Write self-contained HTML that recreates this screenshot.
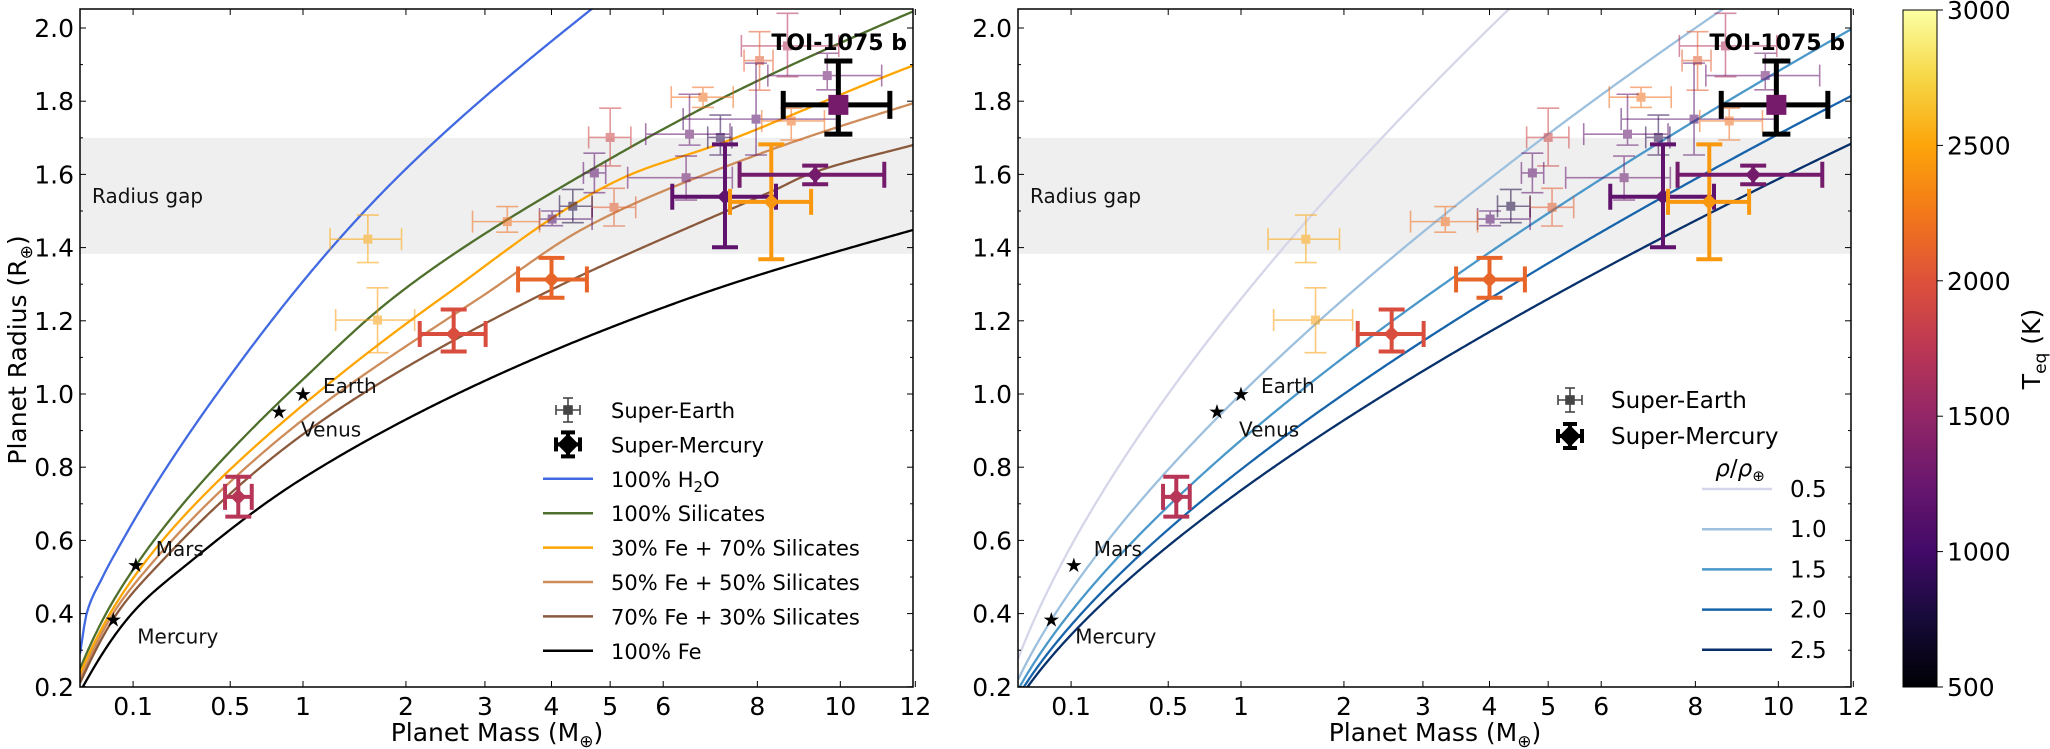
<!DOCTYPE html>
<html><head><meta charset="utf-8">
<style>
html,body{margin:0;padding:0;background:#fff;}
svg{display:block;font-family:"DejaVu Sans","Liberation Sans",sans-serif;}
</style></head>
<body>
<svg id="chart" width="2050" height="749" viewBox="0 0 2050 749" xmlns="http://www.w3.org/2000/svg">
<defs>
<linearGradient id="infernoGrad" x1="0" y1="1" x2="0" y2="0">
<stop offset="0" stop-color="#000004"/><stop offset="0.1" stop-color="#160b39"/><stop offset="0.2" stop-color="#420a68"/><stop offset="0.3" stop-color="#6a176e"/><stop offset="0.4" stop-color="#932667"/><stop offset="0.5" stop-color="#bc3754"/><stop offset="0.6" stop-color="#dd513a"/><stop offset="0.7" stop-color="#f37819"/><stop offset="0.8" stop-color="#fca50a"/><stop offset="0.9" stop-color="#f6d746"/><stop offset="1" stop-color="#fcffa4"/>
</linearGradient>
<clipPath id="clipL"><rect x="80" y="9" width="833" height="678"/></clipPath>
<clipPath id="clipR"><rect x="1018" y="9" width="833" height="678"/></clipPath>
</defs>
</svg>
<script>
// ---------- data ----------
const xTicks=[0.1,0.5,1,2,3,4,5,6,8,10,12];
const xTickLabels=["0.1","0.5","1","2","3","4","5","6","8","10","12"];
const yTicks=[0.2,0.4,0.6,0.8,1.0,1.2,1.4,1.6,1.8,2.0];
const yTickLabels=["0.2","0.4","0.6","0.8","1.0","1.2","1.4","1.6","1.8","2.0"];
const cbTicks=[500,1000,1500,2000,2500,3000];
const radiusGap=[1.383,1.70];
// composition curves (mass, radius samples)
const curveH2O_M=[0.0105,0.0167,0.0375,0.075,0.204,0.40,1.716,4.65];
const curveH2O_R=[0.29,0.40,0.50,0.60,0.80,0.98,1.544,2.049];
const curveSil_M=[0.0105,0.043,0.118,1.0,1.86,4.71,7.28,11.93];
const curveSil_R=[0.249,0.40,0.547,1.04,1.263,1.617,1.812,2.045];
const curve30_M=[0.0105,0.050,0.138,1.0,2.43,5.21,7.28,11.93];
const curve30_R=[0.235,0.40,0.547,0.97,1.263,1.589,1.689,1.897];
const curve50_M=[0.0105,0.0555,0.163,1.0,2.93,4.59,8.05,11.93];
const curve50_R=[0.22,0.40,0.547,0.93,1.263,1.457,1.656,1.794];
const curve70_M=[0.0105,0.063,0.191,1.0,3.74,8.32,9.27,11.93];
const curve70_R=[0.21,0.40,0.547,0.89,1.263,1.553,1.603,1.680];
const curveFe_M=[0.013,0.097,0.309,1.0,6.55,11.93];
const curveFe_R=[0.2,0.40,0.547,0.77,1.263,1.448];
const densities=[0.5,1.0,1.5,2.0,2.5];
const densityColors=["#d6d6ea","#9dc0de","#4a98c9","#1764ab","#08306b"];
// solar system
const ssNames=["Mercury","Venus","Earth","Mars"];
const ssMass=[0.056,0.816,1.0,0.107];
const ssRadius=[0.384,0.952,1.0,0.533];
// super-Earths
const seMass=[8.70,8.05,9.67,6.81,7.97,8.79,6.53,7.18,5.00,4.72,6.46,5.07,4.35,4.01,3.32,1.59,1.69];
const seMlo=[7.64,7.70,8.24,6.16,6.40,8.10,5.66,6.91,4.62,4.53,5.32,4.68,4.13,3.81,2.83,1.23,1.28];
const seMhi=[9.96,8.36,11.08,7.46,9.90,9.60,7.39,7.43,5.38,4.92,7.44,5.47,4.68,4.68,3.81,1.95,2.10];
const seRad=[1.951,1.911,1.870,1.811,1.751,1.746,1.710,1.701,1.701,1.604,1.591,1.510,1.513,1.478,1.471,1.423,1.202];
const seRlo=[1.867,1.83,1.831,1.783,1.653,1.694,1.680,1.653,1.623,1.550,1.53,1.459,1.468,1.46,1.442,1.359,1.113];
const seRhi=[2.04,1.99,1.931,1.838,1.904,1.781,1.819,1.762,1.781,1.658,1.65,1.562,1.559,1.50,1.512,1.489,1.290];
const seTeq=[1680,2070,1250,2200,1120,2200,1200,875,1880,1170,1250,2080,800,1120,2200,2500,2450];
// super-Mercuries
const smMass=[0.547,2.58,4.00,7.28,8.32,9.37];
const smMlo=[0.471,2.16,3.48,6.18,7.39,7.60];
const smMhi=[0.630,3.01,4.59,8.43,9.27,11.15];
const smRad=[0.719,1.164,1.313,1.539,1.525,1.599];
const smRlo=[0.665,1.116,1.263,1.401,1.368,1.573];
const smRhi=[0.774,1.231,1.372,1.682,1.682,1.624];
const smTeq=[1720,1960,2130,1180,2420,1320];
// TOI-1075 b
const toiMass=[9.95], toiMlo=[8.60], toiMhi=[11.30];
const toiRad=[1.79], toiRlo=[1.71], toiRhi=[1.91], toiTeq=[1323];

// ---------- helpers ----------
const NS="http://www.w3.org/2000/svg";
const svg=document.getElementById('chart');
const Y0=9,Y1=687;
function mk(tag,attrs,parent){const e=document.createElementNS(NS,tag);for(const k in attrs)e.setAttribute(k,attrs[k]);(parent||svg).appendChild(e);return e;}
function yS(r){return 28+(2.0-r)*366;}
function xS(x0){return m=>x0+248.5*(Math.sqrt(m)-0.1026);}
const inf=[[0,0,0,4],[0.1,22,11,57],[0.2,66,10,104],[0.3,106,23,110],[0.4,147,38,103],[0.5,188,55,84],[0.6,221,81,58],[0.7,243,120,25],[0.8,252,165,10],[0.9,246,215,70],[1,252,255,164]];
function cmap(T){let t=Math.max(0,Math.min(1,(T-500)/2500));for(let i=1;i<inf.length;i++){if(t<=inf[i][0]){const a=inf[i-1],b=inf[i],f=(t-a[0])/(b[0]-a[0]);return 'rgb('+[1,2,3].map(j=>Math.round(a[j]+f*(b[j]-a[j]))).join(',')+')';}}return 'rgb(252,255,164)';}
// monotone cubic interpolation in log-log space
function makeInterp(Ms,Rs){
 const x=Ms.map(Math.log),y=Rs.map(Math.log),n=x.length;
 const d=[];for(let i=0;i<n-1;i++)d.push((y[i+1]-y[i])/(x[i+1]-x[i]));
 const m=[d[0]];for(let i=1;i<n-1;i++){m.push(d[i-1]*d[i]<=0?0:2/(1/d[i-1]+1/d[i]));}m.push(d[n-2]);
 return M=>{const lm=Math.log(M);
  if(lm<=x[0])return Math.exp(y[0]+d[0]*(lm-x[0]));
  if(lm>=x[n-1])return Math.exp(y[n-1]+d[n-2]*(lm-x[n-1]));
  let i=0;while(lm>x[i+1])i++;
  const h=x[i+1]-x[i],t=(lm-x[i])/h,t2=t*t,t3=t2*t;
  const v=(2*t3-3*t2+1)*y[i]+(t3-2*t2+t)*h*m[i]+(-2*t3+3*t2)*y[i+1]+(t3-t2)*h*m[i+1];
  return Math.exp(v);};
}
function curvePath(fn,xs){let d='';for(let i=0;i<=400;i++){const s=0.1026+(3.47-0.1026)*i/400;const m=s*s;const r=fn(m);d+=(i?'L':'M')+xs(m).toFixed(2)+','+yS(r).toFixed(2);}return d;}

function drawPanel(x0,clip,side){
 const xs=xS(x0);const x1=x0+833;
 const g=mk('g',{});
 const band=mk('rect',{x:x0,y:yS(radiusGap[1]),width:833,height:yS(radiusGap[0])-yS(radiusGap[1]),fill:'#efefef'},g);
 
 const gt=mk('text',{x:x0+12,y:203,'font-size':20,fill:'#111'},g);gt.textContent='Radius gap';
 
 const cg=mk('g',{'clip-path':'url(#'+clip+')'},g);
 if(side==='left'){
  const cs=[[curveH2O_M,curveH2O_R,'#4169e1','curve-100-h2o'],[curveSil_M,curveSil_R,'#4f6f2c','curve-100-silicates'],[curve30_M,curve30_R,'#ffa500','curve-30-fe'],[curve50_M,curve50_R,'#cd8c5a','curve-50-fe'],[curve70_M,curve70_R,'#8b5a3c','curve-70-fe'],[curveFe_M,curveFe_R,'#000','curve-100-fe']];
  cs.forEach(c=>{const f=makeInterp(c[0],c[1]);const p=mk('path',{d:curvePath(f,xs),fill:'none',stroke:c[2],'stroke-width':2.3},cg);
   });
 } else {
  densities.forEach((rho,i)=>{const p=mk('path',{d:curvePath(m=>Math.cbrt(m/rho),xs),fill:'none',stroke:densityColors[i],'stroke-width':2.3},cg);
   });
 }
 // solar system
 ssNames.forEach((n,i)=>{const x=xs(ssMass[i]),y=yS(ssRadius[i]);
  const st=mk('text',{x:x,y:y+7,'font-size':20,'text-anchor':'middle',fill:'#000'},g);st.textContent='★';
  
  const off={Mercury:[24,17],Venus:[22,18],Earth:[20,-8],Mars:[20,-16]}[n];
  const lt=mk('text',{x:x+off[0],y:y+off[1]+7,'font-size':20,fill:'#111'},g);lt.textContent=n;
  });
 // super-Earths
 seMass.forEach((m,i)=>{const c=cmap(seTeq[i]);const x=xs(m),y=yS(seRad[i]);
  const e=mk('g',{stroke:c,'stroke-width':1.6,opacity:0.55,fill:c},g);
  
  const xa=xs(seMlo[i]),xb=xs(seMhi[i]),ya=yS(seRlo[i]),yb=yS(seRhi[i]);
  mk('line',{x1:xa,y1:y,x2:xb,y2:y},e);mk('line',{x1:x,y1:ya,x2:x,y2:yb},e);
  mk('line',{x1:xa,y1:y-11,x2:xa,y2:y+11},e);mk('line',{x1:xb,y1:y-11,x2:xb,y2:y+11},e);
  mk('line',{x1:x-11,y1:ya,x2:x+11,y2:ya},e);mk('line',{x1:x-11,y1:yb,x2:x+11,y2:yb},e);
  mk('rect',{x:x-4,y:y-4,width:8,height:8,'stroke-width':1},e);});
 // super-Mercuries
 smMass.forEach((m,i)=>{const c=cmap(smTeq[i]);const x=xs(m),y=yS(smRad[i]);
  const e=mk('g',{stroke:c,'stroke-width':4,fill:c},g);
  
  const xa=xs(smMlo[i]),xb=xs(smMhi[i]),ya=yS(smRlo[i]),yb=yS(smRhi[i]);
  mk('line',{x1:xa,y1:y,x2:xb,y2:y},e);mk('line',{x1:x,y1:ya,x2:x,y2:yb},e);
  mk('line',{x1:xa,y1:y-13,x2:xa,y2:y+13},e);mk('line',{x1:xb,y1:y-13,x2:xb,y2:y+13},e);
  mk('line',{x1:x-13,y1:ya,x2:x+13,y2:ya},e);mk('line',{x1:x-13,y1:yb,x2:x+13,y2:yb},e);
  mk('path',{d:`M${x},${y-8}L${x+8},${y}L${x},${y+8}L${x-8},${y}Z`,'stroke-width':0},e);});
 // TOI
 toiMass.forEach((m,i)=>{const x=xs(m),y=yS(toiRad[i]);
  const e=mk('g',{stroke:'#000','stroke-width':5},g);
  
  const xa=xs(toiMlo[i]),xb=xs(toiMhi[i]),ya=yS(toiRlo[i]),yb=yS(toiRhi[i]);
  mk('line',{x1:xa,y1:y,x2:xb,y2:y},e);mk('line',{x1:x,y1:ya,x2:x,y2:yb},e);
  mk('line',{x1:xa,y1:y-14,x2:xa,y2:y+14},e);mk('line',{x1:xb,y1:y-14,x2:xb,y2:y+14},e);
  mk('line',{x1:x-14,y1:ya,x2:x+14,y2:ya},e);mk('line',{x1:x-14,y1:yb,x2:x+14,y2:yb},e);
  mk('rect',{x:x-10,y:y-10,width:20,height:20,fill:cmap(toiTeq[i]),stroke:'none'},e);});
 const tl=mk('text',{x:x1-6,y:50,'font-size':22,'font-weight':'bold','text-anchor':'end',fill:'#000'},g);tl.textContent='TOI-1075 b';
 
 // frame & ticks
 const fr=mk('rect',{x:x0,y:Y0,width:833,height:Y1-Y0,fill:'none',stroke:'#000','stroke-width':1.5},g);
 
 xTicks.forEach((t,i)=>{const x=xs(t);mk('line',{x1:x,y1:Y1,x2:x,y2:Y1-6,stroke:'#000','stroke-width':1},g);mk('line',{x1:x,y1:Y0,x2:x,y2:Y0+6,stroke:'#000','stroke-width':1},g);
  const tx=mk('text',{x:x,y:Y1+28,'font-size':25,'text-anchor':'middle',fill:'#000'},g);tx.textContent=xTickLabels[i];
  });
 for(let k=2;k<=20;k++){const y=yS(k/10);const maj=(k%2===0);const L=maj?6:3;
  mk('line',{x1:x0,y1:y,x2:x0+L,y2:y,stroke:'#000','stroke-width':1},g);mk('line',{x1:x1,y1:y,x2:x1-L,y2:y,stroke:'#000','stroke-width':1},g);}
 yTicks.forEach((t,i)=>{const ty=mk('text',{x:x0-6,y:yS(t)+9,'font-size':25,'text-anchor':'end',fill:'#000'},g);ty.textContent=yTickLabels[i];
  });
 const xt=mk('text',{x:x0+417,y:741,'font-size':25,'text-anchor':'middle',fill:'#000'},g);
 xt.innerHTML='Planet Mass (M<tspan font-size="17" dy="6">⊕</tspan><tspan dy="-6">)</tspan>';
 
 return xs;
}
drawPanel(80,'clipL','left');
drawPanel(1018,'clipR','right');

// y title
const yt=mk('text',{x:0,y:0,'font-size':25,'text-anchor':'middle',fill:'#000',transform:'translate(26,350) rotate(-90)'});
yt.innerHTML='Planet Radius (R<tspan font-size="17" dy="6">⊕</tspan><tspan dy="-6">)</tspan>';



// legends
function seMarker(x,y,parent){const e=mk('g',{stroke:'#444','stroke-width':1.6,fill:'#444'},parent);
 mk('line',{x1:x-12,y1:y,x2:x+12,y2:y},e);mk('line',{x1:x,y1:y-12,x2:x,y2:y+12},e);
 mk('line',{x1:x-12,y1:y-5,x2:x-12,y2:y+5},e);mk('line',{x1:x+12,y1:y-5,x2:x+12,y2:y+5},e);
 mk('line',{x1:x-5,y1:y-12,x2:x+5,y2:y-12},e);mk('line',{x1:x-5,y1:y+12,x2:x+5,y2:y+12},e);
 mk('rect',{x:x-4,y:y-4,width:8,height:8},e);}
function smMarker(x,y,parent){const e=mk('g',{stroke:'#000','stroke-width':4,fill:'#000'},parent);
 mk('line',{x1:x-12,y1:y,x2:x+12,y2:y},e);mk('line',{x1:x,y1:y-12,x2:x,y2:y+12},e);
 mk('line',{x1:x-12,y1:y-7,x2:x-12,y2:y+7},e);mk('line',{x1:x+12,y1:y-7,x2:x+12,y2:y+7},e);
 mk('line',{x1:x-7,y1:y-12,x2:x+7,y2:y-12},e);mk('line',{x1:x-7,y1:y+12,x2:x+7,y2:y+12},e);
 mk('path',{d:`M${x},${y-8}L${x+8},${y}L${x},${y+8}L${x-8},${y}Z`},e);}
const legL=mk('g',{});
const legLabels=['Super-Earth','Super-Mercury','100% H<tspan font-size="15" dy="5">2</tspan><tspan dy="-5">O</tspan>','100% Silicates','30% Fe + 70% Silicates','50% Fe + 50% Silicates','70% Fe + 30% Silicates','100% Fe'];
const legCols=[null,null,'#4169e1','#4f6f2c','#ffa500','#cd8c5a','#8b5a3c','#000'];
legLabels.forEach((l,i)=>{const y=410+i*34.4;
 if(i===0)seMarker(568,y,legL);else if(i===1)smMarker(568,y,legL);else mk('line',{x1:543,y1:y,x2:593,y2:y,stroke:legCols[i],'stroke-width':2.5},legL);
 const t=mk('text',{x:611,y:y+8,'font-size':21,fill:'#000'},legL);t.innerHTML=l;
 });
const legR=mk('g',{});
seMarker(1570,400,legR);smMarker(1570,436,legR);
const r1=mk('text',{x:1611,y:408,'font-size':23,fill:'#000'},legR);r1.textContent='Super-Earth';

const r2=mk('text',{x:1611,y:444,'font-size':23,fill:'#000'},legR);r2.textContent='Super-Mercury';

const rt=mk('text',{x:1740,y:476,'font-size':23,'text-anchor':'middle',fill:'#000'},legR);
rt.innerHTML='<tspan font-style="italic">ρ</tspan>/<tspan font-style="italic">ρ</tspan><tspan font-size="15" dy="5">⊕</tspan>';

densities.forEach((d,i)=>{const y=489+i*40.2;mk('line',{x1:1702,y1:y,x2:1772,y2:y,stroke:densityColors[i],'stroke-width':2.5},legR);
 const t=mk('text',{x:1790,y:y+8,'font-size':23,fill:'#000'},legR);t.textContent=d.toFixed(1);
 });

// colorbar
const cb=mk('g',{});
mk('rect',{x:1903,y:10,width:34,height:677,fill:'url(#infernoGrad)',stroke:'#000','stroke-width':1},cb);
cbTicks.forEach(t=>{const y=687-(t-500)/2500*677;mk('line',{x1:1937,y1:y,x2:1943,y2:y,stroke:'#000','stroke-width':1},cb);
 const tx=mk('text',{x:1947,y:y+9,'font-size':25,fill:'#000'},cb);tx.textContent=t;
 });
const ct=mk('text',{x:0,y:0,'font-size':25,'text-anchor':'middle',fill:'#000',transform:'translate(2040,349) rotate(-90)'},cb);
ct.innerHTML='T<tspan font-size="17" dy="6">eq</tspan><tspan dy="-6"> (K)</tspan>';

</script>
</body></html>
